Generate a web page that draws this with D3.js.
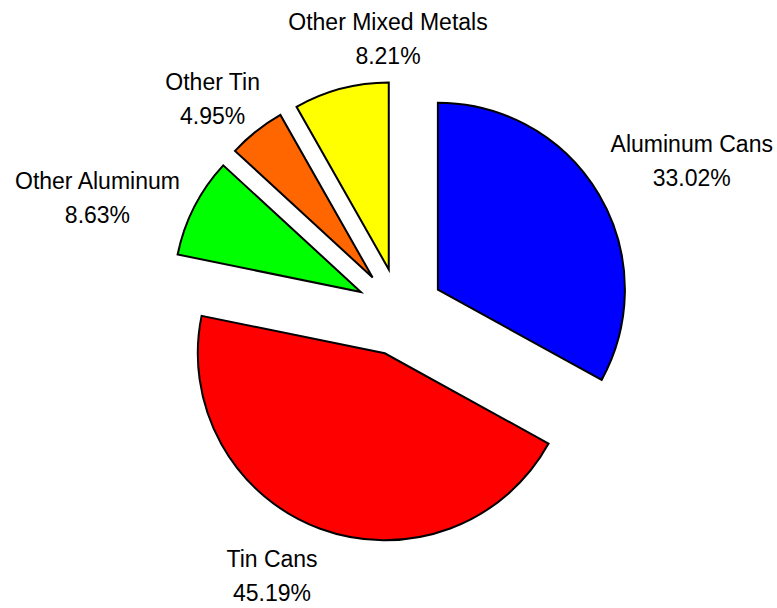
<!DOCTYPE html>
<html>
<head>
<meta charset="utf-8">
<script src="https://cdn.jsdelivr.net/npm/d3@7"></script>
<style>
  html, body { margin: 0; padding: 0; background: #ffffff; }
  svg { display: block; }
  text { font-family: "Liberation Sans", Arial, sans-serif; font-size: 23px; fill: #000; }
</style>
</head>
<body>
<div id="chart"></div>
<script>
// ---- data ----
const categories = ["Aluminum Cans", "Tin Cans", "Other Aluminum", "Other Tin", "Other Mixed Metals"];
const values = [33.02, 45.19, 8.63, 4.95, 8.21];
const percentLabels = ["33.02%", "45.19%", "8.63%", "4.95%", "8.21%"];
const colors = ["#0000FF", "#FF0000", "#00FF00", "#FF6600", "#FFFF00"];

// ---- layout ----
const W = 777, H = 608;
const cx = 400, cy = 312, radius = 187, explode = 44;
const labelRadius = [262, 264, 250, 250, 248];
const labelNudgeDeg = [-1.2, 4.2, -2.6, -0.6, 12.8];
const lineGap = 34, capH = 17;

const svg = d3.select("#chart").append("svg").attr("width", W).attr("height", H);

const pie = d3.pie().sort(null).value(d => d.value).startAngle(0).endAngle(2 * Math.PI);
const arc = d3.arc().innerRadius(0).outerRadius(radius);

const rows = categories.map((c, i) => ({ name: c, value: values[i], pct: percentLabels[i], color: colors[i], i }));
const arcs = pie(rows);

svg.append("g").selectAll("path").data(arcs).join("path")
  .attr("d", arc)
  .attr("transform", d => {
    const m = (d.startAngle + d.endAngle) / 2;
    return `translate(${cx + explode * Math.sin(m)},${cy - explode * Math.cos(m)})`;
  })
  .attr("fill", d => d.data.color)
  .attr("stroke", "#000")
  .attr("stroke-width", 2)
  .attr("stroke-linejoin", "miter");

const lg = svg.append("g");
arcs.forEach(d => {
  const i = d.data.i;
  const m = (d.startAngle + d.endAngle) / 2 + labelNudgeDeg[i] * Math.PI / 180;
  const sx = Math.sin(m), sy = -Math.cos(m);
  const px = cx + labelRadius[i] * sx, py = cy + labelRadius[i] * sy;
  const g = lg.append("g");
  const t1 = g.append("text").attr("text-anchor", "middle").text(d.data.name);
  const t2 = g.append("text").attr("text-anchor", "middle").text(d.data.pct);
  const w = Math.max(t1.node().getComputedTextLength(), t2.node().getComputedTextLength());
  const h = lineGap + capH;
  const bx = px + sx * w / 2, by = py + sy * h / 2;
  t1.attr("x", bx).attr("y", by - lineGap / 2 + capH / 2);
  t2.attr("x", bx).attr("y", by + lineGap / 2 + capH / 2);
});
</script>
</body>
</html>
